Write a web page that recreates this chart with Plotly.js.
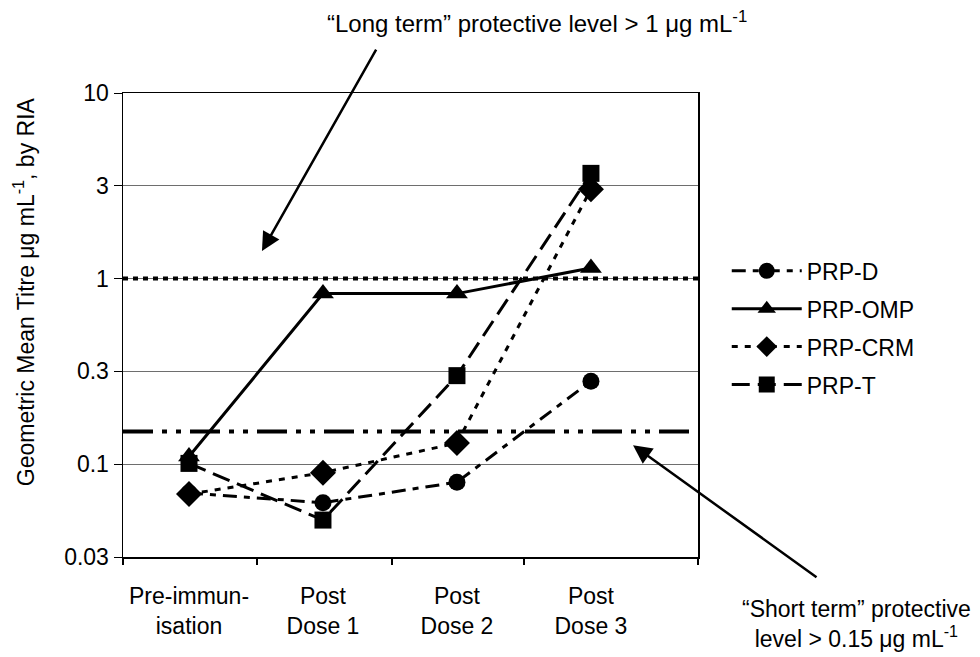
<!DOCTYPE html>
<html>
<head>
<meta charset="utf-8">
<script src="https://cdn.plot.ly/plotly-3.0.1.min.js"></script>
<style>html,body{margin:0;padding:0;background:#fff;}#chart{width:980px;height:657px;}</style>
</head>
<body>
<div id="chart"></div>
<script>
var categories = ['Pre-immun-<br>isation', 'Post<br>Dose 1', 'Post<br>Dose 2', 'Post<br>Dose 3'];
var catIndex = [0, 1, 2, 3];
var prpD   = [0.070, 0.062, 0.080, 0.28];
var prpOMP = [0.110, 0.83, 0.83, 1.14];
var prpCRM = [0.069, 0.090, 0.130, 3.03];
var prpT   = [0.101, 0.050, 0.30, 3.69];
var longTermLevel = 1;
var shortTermLevel = 0.15;
var yTickVals = [0.031623, 0.1, 0.31623, 1, 3.1623, 10];
var yTickText = ['0.03', '0.1', '0.3', '1', '3', '10'];
var xRange = [-0.4925, 3.799];

var FONT = 'Liberation Sans, Arial, sans-serif';
var FS = 23;

function series(name, y, symbol, size, dash, group) {
  return {
    x: catIndex, y: y, name: name, type: 'scatter', mode: 'lines+markers',
    legendgroup: group,
    line: {color: '#000', width: 3, dash: dash},
    marker: {symbol: symbol, size: size, color: '#000'}
  };
}

var traces = [
  {x: xRange, y: [longTermLevel, longTermLevel], mode: 'lines', showlegend: false, hoverinfo: 'skip',
   line: {color: '#000', width: 4, dash: '5px,5px'}},
  {x: xRange, y: [shortTermLevel, shortTermLevel], mode: 'lines', showlegend: false, hoverinfo: 'skip',
   line: {color: '#000', width: 4, dash: '30px,9px,5px,9px,5px,9px'}},
  series('PRP-D', prpD, 'circle', 17, '14px,7px,6px,7px', 'a'),
  series('PRP-OMP', prpOMP, 'triangle-up', 19, 'solid', 'b'),
  series('PRP-CRM', prpCRM, 'diamond', 20, '6px,7px', 'c'),
  series('PRP-T', prpT, 'square', 17, '18px,8px', 'd')
];

var layout = {
  width: 980, height: 657,
  margin: {l: 123, r: 282, t: 93, b: 100.3},
  paper_bgcolor: '#fff', plot_bgcolor: '#fff',
  font: {family: FONT, size: FS, color: '#000'},
  showlegend: true,
  legend: {x: 1.05, xanchor: 'left', y: 0.663, yanchor: 'top',
           font: {family: FONT, size: FS, color: '#000'},
           traceorder: 'grouped', tracegroupgap: 5, itemwidth: 70,
           bgcolor: 'rgba(0,0,0,0)'},
  xaxis: {
    type: 'linear', range: xRange, tickmode: 'array', tickvals: catIndex, ticktext: categories,
    ticks: '', showgrid: false, zeroline: false,
    showline: true, mirror: true, linecolor: '#000', linewidth: 1.5,
    tickfont: {family: FONT, size: FS, color: '#000'},
    ticklabelstandoff: 18,
    minor: {tickmode: 'array', tickvals: [-0.4925, 0.507, 1.515, 2.5, 3.799], ticks: 'outside',
            ticklen: 6, tickwidth: 1.5, tickcolor: '#000', showgrid: false}
  },
  yaxis: {
    type: 'log', range: [-1.5, 1], tickmode: 'array', tickvals: yTickVals, ticktext: yTickText,
    ticks: 'outside', ticklen: 8, tickwidth: 1, tickcolor: '#000',
    showgrid: true, gridcolor: '#6e6e6e', gridwidth: 1, zeroline: false,
    showline: true, mirror: true, linecolor: '#000', linewidth: 1.5,
    tickfont: {family: FONT, size: FS, color: '#000'}
  },
  annotations: [
    {xref: 'paper', yref: 'paper', x: 0.72, y: 1.1531, text: '“Long term” protective level > 1 μg mL<sup>-1</sup>',
     showarrow: false, xanchor: 'center', yanchor: 'middle', font: {family: FONT, size: 24, color: '#000'}},
    {xref: 'paper', yref: 'paper', x: 1.2765, y: -0.145, text: '“Short term” protective<br>level > 0.15 μg mL<sup>-1</sup>',
     showarrow: false, xanchor: 'center', yanchor: 'middle', align: 'center', font: {family: FONT, size: FS, color: '#000'}},
    {xref: 'paper', yref: 'paper', x: -0.172, y: 0.571, text: 'Geometric Mean Titre μg mL<sup>-1</sup>, by RIA',
     textangle: -90, showarrow: false, xanchor: 'center', yanchor: 'middle', font: {family: FONT, size: FS, color: '#000'}},
    {xref: 'paper', yref: 'paper', x: 0.2417, y: 0.6593, text: '', showarrow: true, ax: 115, ay: -203,
     arrowhead: 2, arrowsize: 1.5, arrowwidth: 2.5, arrowcolor: '#000'},
    {xref: 'paper', yref: 'paper', x: 0.887, y: 0.2409, text: '', showarrow: true, ax: 185, ay: 133,
     arrowhead: 2, arrowsize: 1.5, arrowwidth: 2.5, arrowcolor: '#000'}
  ]
};

Plotly.newPlot('chart', traces, layout, {displayModeBar: false, staticPlot: true});
</script>
</body>
</html>
